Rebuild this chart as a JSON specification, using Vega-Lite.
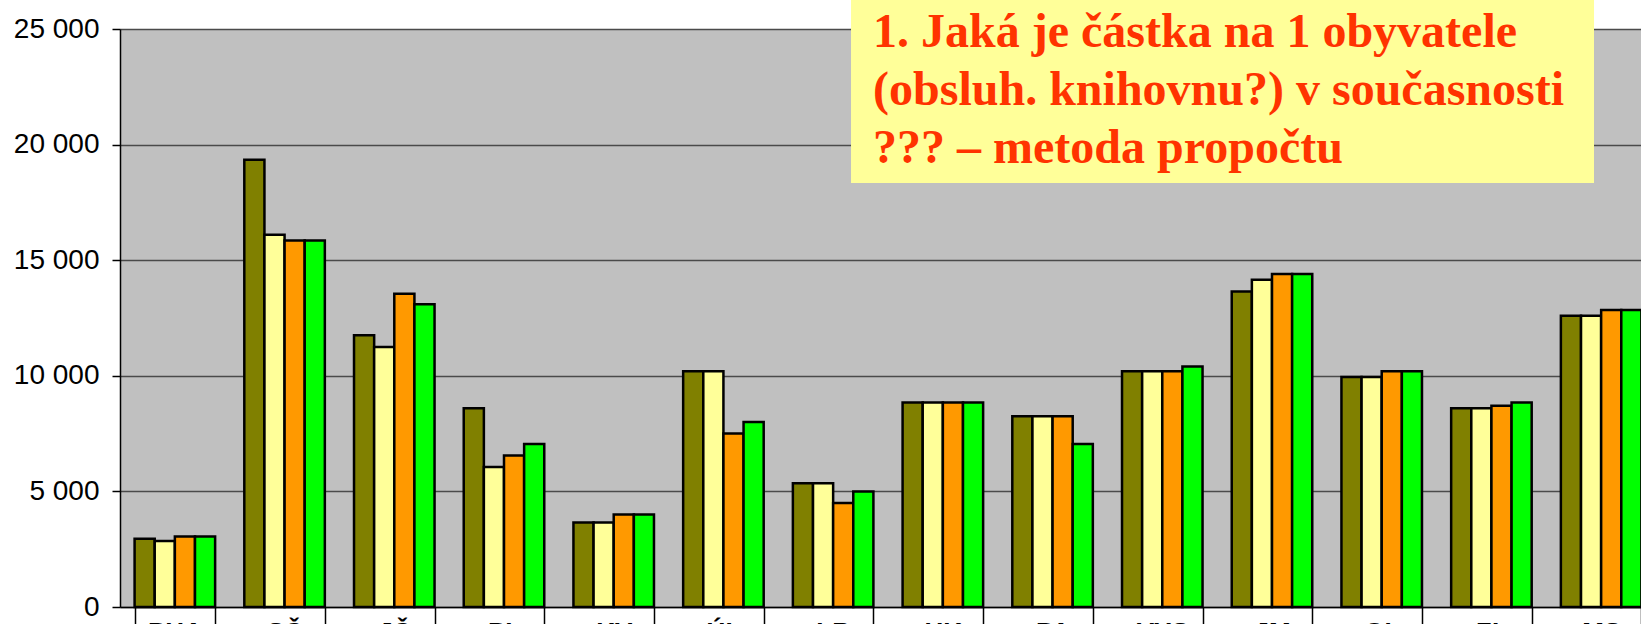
{
  "$schema": "https://vega.github.io/schema/vega-lite/v6.json",
  "width": 1521,
  "height": 578,
  "autosize": {"type": "none"},
  "padding": {"left": 120, "top": 29, "right": 0, "bottom": 17},
  "background": "white",
  "config": {"view": {"fill": "#C0C0C0", "stroke": null}},
  "datasets": {
    "bars": [
      {"region": "PHA", "series": "řada 1", "value": 2950},
      {"region": "PHA", "series": "řada 2", "value": 2850},
      {"region": "PHA", "series": "řada 3", "value": 3050},
      {"region": "PHA", "series": "řada 4", "value": 3050},
      {"region": "SČ", "series": "řada 1", "value": 19350},
      {"region": "SČ", "series": "řada 2", "value": 16100},
      {"region": "SČ", "series": "řada 3", "value": 15850},
      {"region": "SČ", "series": "řada 4", "value": 15850},
      {"region": "JČ", "series": "řada 1", "value": 11750},
      {"region": "JČ", "series": "řada 2", "value": 11250},
      {"region": "JČ", "series": "řada 3", "value": 13550},
      {"region": "JČ", "series": "řada 4", "value": 13100},
      {"region": "PL", "series": "řada 1", "value": 8600},
      {"region": "PL", "series": "řada 2", "value": 6050},
      {"region": "PL", "series": "řada 3", "value": 6550},
      {"region": "PL", "series": "řada 4", "value": 7050},
      {"region": "KV", "series": "řada 1", "value": 3650},
      {"region": "KV", "series": "řada 2", "value": 3650},
      {"region": "KV", "series": "řada 3", "value": 4000},
      {"region": "KV", "series": "řada 4", "value": 4000},
      {"region": "ÚL", "series": "řada 1", "value": 10200},
      {"region": "ÚL", "series": "řada 2", "value": 10200},
      {"region": "ÚL", "series": "řada 3", "value": 7500},
      {"region": "ÚL", "series": "řada 4", "value": 8000},
      {"region": "LB", "series": "řada 1", "value": 5350},
      {"region": "LB", "series": "řada 2", "value": 5350},
      {"region": "LB", "series": "řada 3", "value": 4500},
      {"region": "LB", "series": "řada 4", "value": 5000},
      {"region": "HK", "series": "řada 1", "value": 8850},
      {"region": "HK", "series": "řada 2", "value": 8850},
      {"region": "HK", "series": "řada 3", "value": 8850},
      {"region": "HK", "series": "řada 4", "value": 8850},
      {"region": "PA", "series": "řada 1", "value": 8250},
      {"region": "PA", "series": "řada 2", "value": 8250},
      {"region": "PA", "series": "řada 3", "value": 8250},
      {"region": "PA", "series": "řada 4", "value": 7050},
      {"region": "VYS", "series": "řada 1", "value": 10200},
      {"region": "VYS", "series": "řada 2", "value": 10200},
      {"region": "VYS", "series": "řada 3", "value": 10200},
      {"region": "VYS", "series": "řada 4", "value": 10400},
      {"region": "JM", "series": "řada 1", "value": 13650},
      {"region": "JM", "series": "řada 2", "value": 14150},
      {"region": "JM", "series": "řada 3", "value": 14400},
      {"region": "JM", "series": "řada 4", "value": 14400},
      {"region": "OL", "series": "řada 1", "value": 9950},
      {"region": "OL", "series": "řada 2", "value": 9950},
      {"region": "OL", "series": "řada 3", "value": 10200},
      {"region": "OL", "series": "řada 4", "value": 10200},
      {"region": "ZL", "series": "řada 1", "value": 8600},
      {"region": "ZL", "series": "řada 2", "value": 8600},
      {"region": "ZL", "series": "řada 3", "value": 8700},
      {"region": "ZL", "series": "řada 4", "value": 8850},
      {"region": "MS", "series": "řada 1", "value": 12600},
      {"region": "MS", "series": "řada 2", "value": 12600},
      {"region": "MS", "series": "řada 3", "value": 12850},
      {"region": "MS", "series": "řada 4", "value": 12850}
    ],
    "note": [
      {"title": "1. Jaká je částka na 1 obyvatele\n(obsluh. knihovnu?) v současnosti\n??? – metoda propočtu"}
    ]
  },
  "layer": [
    {
      "data": {"name": "bars"},
      "mark": {"type": "bar", "stroke": "black", "strokeWidth": 2.5},
      "encoding": {
        "x": {
          "field": "region", "type": "nominal", "sort": null,
          "scale": {"range": [0, 1536], "paddingInner": 0.266, "paddingOuter": 0.133},
          "axis": {
            "title": null, "tickBand": "extent", "tickSize": 20, "tickColor": "black", "tickWidth": 1.5,
            "domainColor": "black", "domainWidth": 1.5,
            "labelFont": "Liberation Sans", "labelFontWeight": "bold", "labelFontSize": 26,
            "labelPadding": -8, "labelColor": "black", "labelAngle": 0
          }
        },
        "xOffset": {"field": "series", "type": "nominal", "sort": null, "scale": {"paddingInner": 0, "paddingOuter": 0}},
        "y": {
          "field": "value", "type": "quantitative",
          "scale": {"domain": [0, 25000], "nice": false},
          "axis": {
            "title": null, "values": [0, 5000, 10000, 15000, 20000, 25000],
            "labelExpr": "replace(format(datum.value, ','), ',', ' ')",
            "labelFont": "Liberation Sans", "labelFontSize": 28, "labelColor": "black",
            "labelPadding": 13, "tickSize": 8, "tickColor": "black", "tickWidth": 1.5,
            "domainColor": "black", "domainWidth": 1.5,
            "gridColor": "#4a4a4a", "gridWidth": 1.5
          }
        },
        "color": {
          "field": "series", "type": "nominal",
          "scale": {"domain": ["řada 1", "řada 2", "řada 3", "řada 4"], "range": ["#808000", "#FFFF99", "#FF9900", "#00FF00"]},
          "legend": null
        }
      }
    },
    {
      "data": {"name": "note"},
      "mark": {"type": "rect", "fill": "#FFFF99"},
      "encoding": {
        "x": {"datum": 6.663, "type": "quantitative", "scale": {"domain": [0, 14], "range": [0, 1536], "nice": false}, "axis": null},
        "x2": {"datum": 13.435},
        "y": {"datum": 26254, "type": "quantitative", "scale": {"domain": [0, 25000], "nice": false}},
        "y2": {"datum": 18339}
      }
    },
    {
      "data": {"name": "note"},
      "mark": {
        "type": "text", "font": "Liberation Serif", "fontWeight": "bold", "fontSize": 48,
        "color": "#FF3300", "align": "left", "baseline": "alphabetic", "lineBreak": "\n", "lineHeight": 58
      },
      "encoding": {
        "x": {"datum": 6.864, "type": "quantitative", "scale": {"domain": [0, 14], "range": [0, 1536], "nice": false}, "axis": null},
        "y": {"datum": 24221, "type": "quantitative", "scale": {"domain": [0, 25000], "nice": false}},
        "text": {"field": "title"}
      }
    }
  ],
  "resolve": {"scale": {"x": "independent"}, "axis": {"x": "independent"}}
}
